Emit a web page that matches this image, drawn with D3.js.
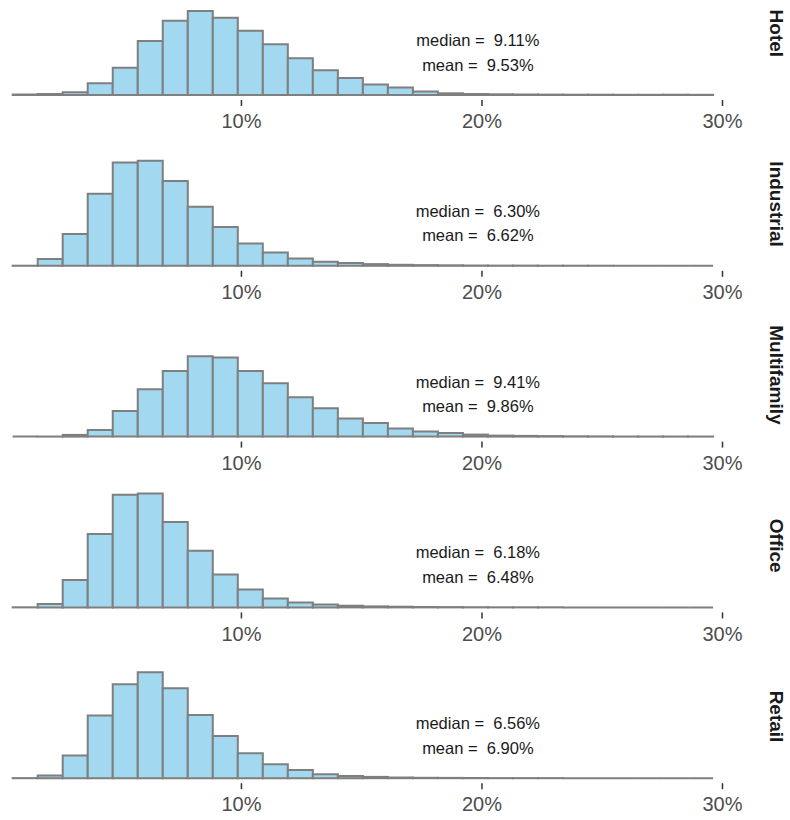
<!DOCTYPE html>
<html>
<head>
<meta charset="utf-8">
<script src="https://cdn.jsdelivr.net/npm/d3@7"></script>
<style>
  body { margin: 0; background: #fff; }
  text { font-family: "Liberation Sans", Arial, sans-serif; }
</style>
</head>
<body>
<script>
// facet order, top to bottom
const types = ['Hotel', 'Industrial', 'Multifamily', 'Office', 'Retail']

// histogram bins (rate, %)
const binStart = 0.51
const binWidth = 1.04

// counts per bin
const hotelCounts = [5, 10, 27, 117, 273, 540, 743, 840, 773, 643, 507, 367, 247, 170, 105, 75, 35, 17, 10, 7, 5, 4, 3, 3, 2, 2, 3, 2]
const industrialCounts = [1, 67, 317, 720, 1033, 1050, 847, 590, 387, 223, 133, 73, 40, 27, 17, 10, 7, 5, 3, 2, 2, 1, 1, 1, 0, 0, 0, 0]
const multifamilyCounts = [0, 1, 17, 67, 257, 473, 657, 803, 790, 657, 533, 393, 283, 180, 135, 80, 50, 37, 20, 10, 7, 5, 3, 2, 1, 1, 1, 1]
const officeCounts = [1, 33, 273, 733, 1127, 1140, 853, 567, 330, 180, 90, 50, 30, 17, 10, 7, 4, 3, 2, 1, 1, 1, 0, 0, 0, 0, 0, 0]
const retailCounts = [1, 27, 227, 627, 940, 1060, 900, 633, 423, 250, 140, 83, 40, 23, 13, 7, 4, 3, 2, 1, 1, 1, 0, 0, 0, 0, 0, 0]

const medians = [9.11, 6.30, 9.41, 6.18, 6.56]
const means = [9.53, 6.62, 9.86, 6.48, 6.90]

const xTicks = [10, 20, 30]
const labelX = 19.85

const allCounts = [hotelCounts, industrialCounts, multifamilyCounts, officeCounts, retailCounts]

const width = 790, height = 820
const panelStep = 170.8
const firstBase = 95

const x = d3.scaleLinear().domain([0, 30]).range([0.4, 722])
const y = d3.scaleLinear().domain([0, 1210]).range([0, 121])

let svg = d3.select('body')
  .append('svg')
  .attr('width', width)
  .attr('height', height)

let panels = svg.selectAll('g.panel')
  .data(types)
  .enter()
  .append('g')
  .attr('class', 'panel')
  .attr('transform', (d, i) => 'translate(0,' + (firstBase + i * panelStep) + ')')

panels.each(function (name, i) {
  let g = d3.select(this)
  let bins = allCounts[i].map((c, j) => {
    return { x0: binStart + j * binWidth, x1: binStart + (j + 1) * binWidth, count: c }
  })

  g.selectAll('path.bar')
    .data(bins)
    .enter()
    .append('path')
    .attr('class', 'bar')
    .attr('d', d => {
      let x0 = x(d.x0), x1 = x(d.x1), h = -y(d.count)
      return 'M' + x0 + ',0V' + h + 'H' + x1 + 'V0Z'
    })
    .attr('fill', '#a2d8f0')
    .attr('stroke', '#7f7f7f')
    .attr('stroke-width', 2)

  // x axis: ticks and labels only
  let axis = g.append('g')
    .attr('transform', 'translate(0,5)')
    .call(d3.axisBottom(x).tickValues(xTicks).tickFormat(d => d + '%').tickSize(6).tickPadding(8))
  axis.select('.domain').remove()
  axis.selectAll('.tick line').attr('stroke', '#333').attr('stroke-width', 1.5)
  axis.selectAll('.tick text')
    .attr('fill', '#4d4d4d')
    .attr('font-size', 20)
    .attr('font-family', '"Liberation Sans", Arial, sans-serif')

  g.append('text')
    .attr('x', x(labelX))
    .attr('y', -49)
    .attr('text-anchor', 'middle')
    .attr('font-size', 16.5)
    .attr('fill', '#1a1a1a')
    .style('white-space', 'pre')
    .text('median =  ' + medians[i].toFixed(2) + '%')

  g.append('text')
    .attr('x', x(labelX))
    .attr('y', -24.5)
    .attr('text-anchor', 'middle')
    .attr('font-size', 16.5)
    .attr('fill', '#1a1a1a')
    .style('white-space', 'pre')
    .text('mean =  ' + means[i].toFixed(2) + '%')

  // facet strip on the right
  g.append('text')
    .attr('transform', 'translate(776,-61.7) rotate(90)')
    .attr('text-anchor', 'middle')
    .attr('dominant-baseline', 'central')
    .attr('font-size', 19)
    .attr('font-weight', 'bold')
    .attr('fill', '#1a1a1a')
    .text(name)
})
</script>
</body>
</html>
